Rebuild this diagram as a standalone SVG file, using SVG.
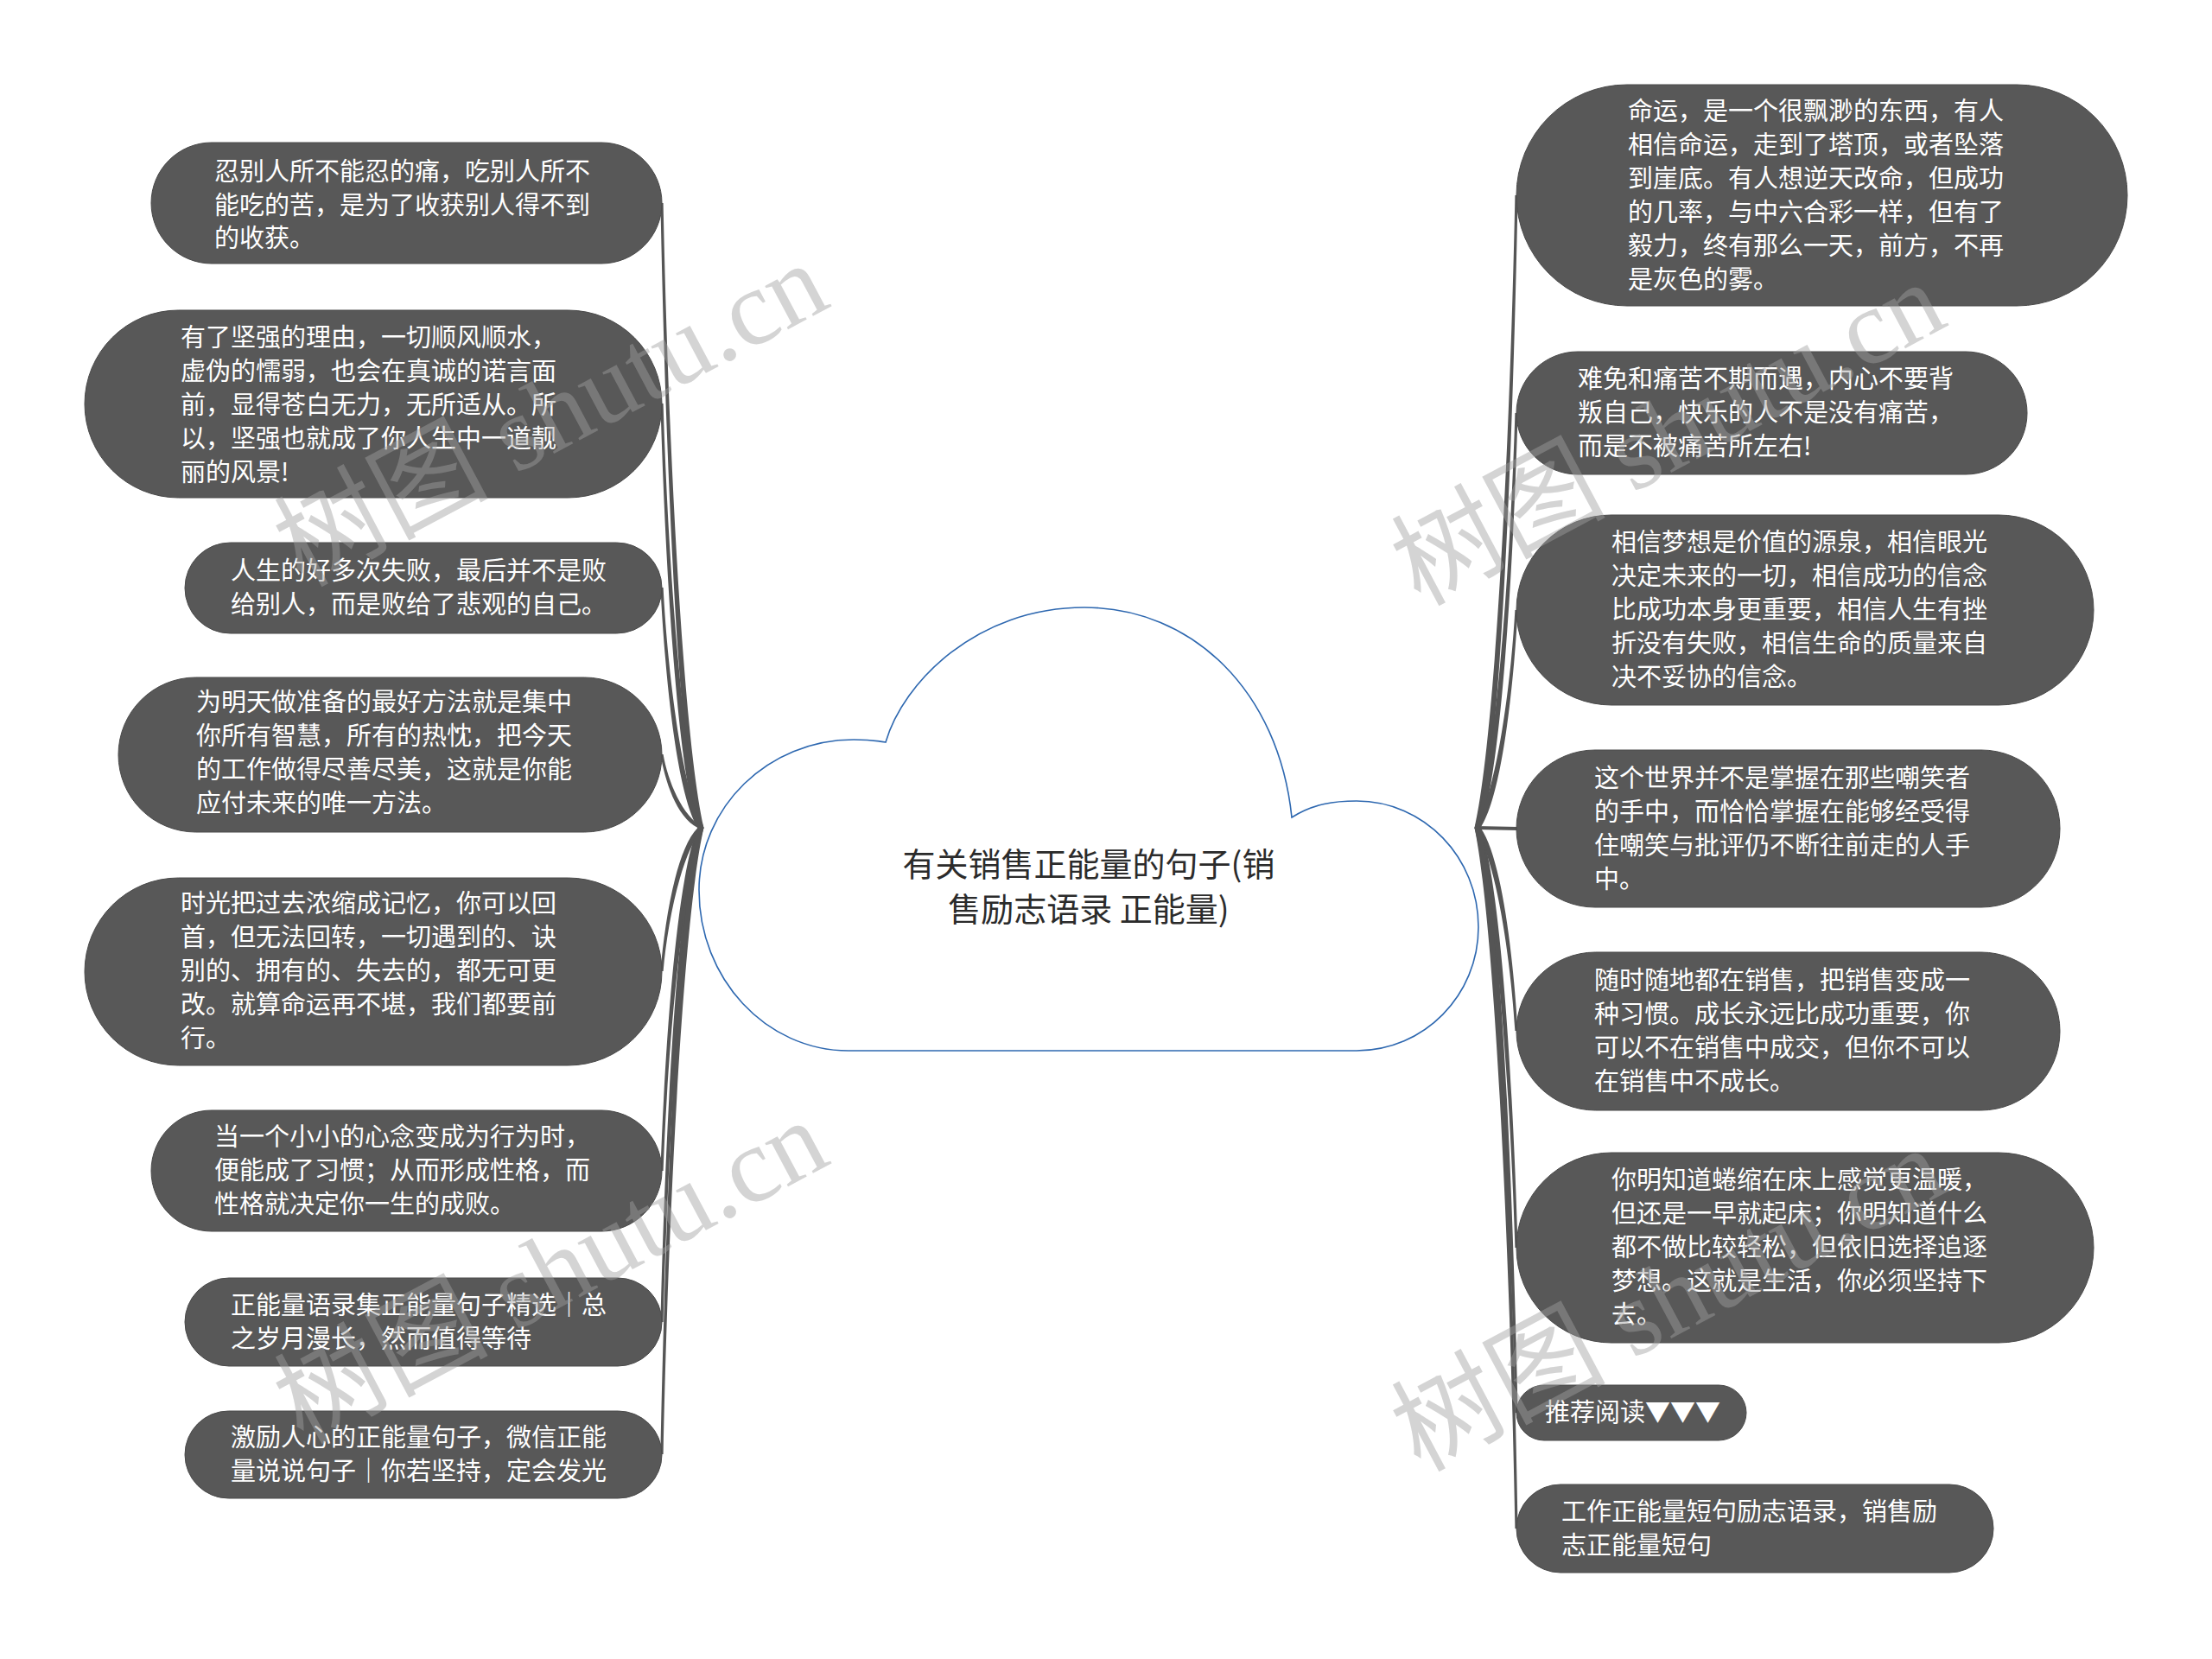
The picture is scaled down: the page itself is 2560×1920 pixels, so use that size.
<svg xmlns="http://www.w3.org/2000/svg" width="2560" height="1920" viewBox="0 0 2560 1920">
<style>
.node rect{fill:#585858;stroke:#4a4a4a;stroke-width:1}
.node text{fill:#ffffff;font-family:"Noto Sans CJK SC","Microsoft YaHei",sans-serif;font-size:29px}
.conn path{fill:#555555;stroke:none}
.title{fill:#2b2b2b;font-family:"Noto Sans CJK SC",sans-serif;font-size:38px;text-anchor:middle}
.wm{fill:#a0a0a0;fill-opacity:0.45;font-family:"Liberation Serif","Noto Sans CJK SC",serif;font-size:124px}
</style>
<rect width="2560" height="1920" fill="#ffffff"/>
<g id="connectors" class="conn">
<path d="M807.5,958 C782.5,849.5 769.4,488 764.4,235 L767.6,235 C772.6,488 789.5,849.5 814.5,958 Z"/>
<path d="M807.5,958 C782.5,884.4 769.4,638.9 764.4,467 L767.6,467 C772.6,638.9 789.5,884.4 814.5,958 Z"/>
<path d="M807.5,958 C782.5,916.3 769.4,777.3 764.4,680 L767.6,680 C772.6,777.3 789.5,916.3 814.5,958 Z"/>
<path d="M807.5,958 C782.5,945.3 769.4,902.8 764.4,873 L767.6,873 C772.6,902.8 789.5,945.3 814.5,958 Z"/>
<path d="M807.5,958 C782.5,982.9 769.4,1065.9 764.4,1124 L767.6,1124 C772.6,1065.9 789.5,982.9 814.5,958 Z"/>
<path d="M807.5,958 C782.5,1017.6 769.4,1216 764.4,1355 L767.6,1355 C772.6,1216 789.5,1017.6 814.5,958 Z"/>
<path d="M807.5,958 C782.5,1043.8 769.4,1329.8 764.4,1530 L767.6,1530 C772.6,1329.8 789.5,1043.8 814.5,958 Z"/>
<path d="M807.5,958 C782.5,1066.8 769.4,1429.3 764.4,1683 L767.6,1683 C772.6,1429.3 789.5,1066.8 814.5,958 Z"/>
<path d="M1706.5,958 C1731.5,848.2 1748.4,482.2 1753.4,226 L1756.6,226 C1751.6,482.2 1738.5,848.2 1713.5,958 Z"/>
<path d="M1706.5,958 C1731.5,886 1748.4,646 1753.4,478 L1756.6,478 C1751.6,646 1738.5,886 1713.5,958 Z"/>
<path d="M1706.5,958 C1731.5,920.2 1748.4,794.2 1753.4,706 L1756.6,706 C1751.6,794.2 1738.5,920.2 1713.5,958 Z"/>
<path d="M1708,956 L1757,957 L1757,961 L1708,960 Z"/>
<path d="M1706.5,958 C1731.5,993.3 1748.4,1110.8 1753.4,1193 L1756.6,1193 C1751.6,1110.8 1738.5,993.3 1713.5,958 Z"/>
<path d="M1706.5,958 C1731.5,1030.9 1748.4,1273.9 1753.4,1444 L1756.6,1444 C1751.6,1273.9 1738.5,1030.9 1713.5,958 Z"/>
<path d="M1706.5,958 C1731.5,1059.6 1748.4,1398 1753.4,1635 L1756.6,1635 C1751.6,1398 1738.5,1059.6 1713.5,958 Z"/>
<path d="M1706.5,958 C1731.5,1079.7 1748.4,1485.2 1753.4,1769 L1756.6,1769 C1751.6,1485.2 1738.5,1079.7 1713.5,958 Z"/>
</g>
<g id="root">
<path d="M982,1216 C886.5,1216 809,1132.7 809,1030 C809,934 889,856 988,856 C1002,856 1014,857 1025,859 C1045,790 1130,703 1255,703 C1380,703 1480,800 1495,946 C1520,930 1545,927 1570,927 C1648,927 1711,992 1711,1073 C1711,1152 1648,1216 1570,1216 Z" fill="#ffffff" stroke="#2e68b0" stroke-width="1.6"/>
<text class="title" x="1260" y="1014">有关销售正能量的句子(销</text>
<text class="title" x="1260" y="1066">售励志语录 正能量)</text>
</g>
<g id="L1" class="node"><rect x="175" y="165" width="591" height="140" rx="70"/>
<text x="248" y="209">忍别人所不能忍的痛，吃别人所不</text><text x="248" y="248">能吃的苦，是为了收获别人得不到</text><text x="248" y="286">的收获。</text></g>
<g id="L2" class="node"><rect x="98" y="359" width="668" height="217" rx="108.5"/>
<text x="209" y="401">有了坚强的理由，一切顺风顺水，</text><text x="209" y="440">虚伪的懦弱，也会在真诚的诺言面</text><text x="209" y="479">前，显得苍白无力，无所适从。所</text><text x="209" y="518">以，坚强也就成了你人生中一道靓</text><text x="209" y="557">丽的风景!</text></g>
<g id="L3" class="node"><rect x="214" y="628" width="552" height="105" rx="52.5"/>
<text x="267" y="671">人生的好多次失败，最后并不是败</text><text x="267" y="710">给别人，而是败给了悲观的自己。</text></g>
<g id="L4" class="node"><rect x="137" y="784" width="629" height="179" rx="89.5"/>
<text x="227" y="823">为明天做准备的最好方法就是集中</text><text x="227" y="862">你所有智慧，所有的热忱，把今天</text><text x="227" y="901">的工作做得尽善尽美，这就是你能</text><text x="227" y="940">应付未来的唯一方法。</text></g>
<g id="L5" class="node"><rect x="98" y="1016" width="668" height="217" rx="108.5"/>
<text x="209" y="1056">时光把过去浓缩成记忆，你可以回</text><text x="209" y="1095">首，但无法回转，一切遇到的、诀</text><text x="209" y="1134">别的、拥有的、失去的，都无可更</text><text x="209" y="1173">改。就算命运再不堪，我们都要前</text><text x="209" y="1212">行。</text></g>
<g id="L6" class="node"><rect x="175" y="1285" width="591" height="140" rx="70"/>
<text x="248" y="1326">当一个小小的心念变成为行为时，</text><text x="248" y="1365">便能成了习惯；从而形成性格，而</text><text x="248" y="1404">性格就决定你一生的成败。</text></g>
<g id="L7" class="node"><rect x="214" y="1479" width="552" height="102" rx="51"/>
<text x="267" y="1521">正能量语录集正能量句子精选｜总</text><text x="267" y="1560">之岁月漫长，然而值得等待</text></g>
<g id="L8" class="node"><rect x="214" y="1633" width="552" height="101" rx="50.5"/>
<text x="267" y="1674">激励人心的正能量句子，微信正能</text><text x="267" y="1713">量说说句子｜你若坚持，定会发光</text></g>
<g id="R1" class="node"><rect x="1755" y="98" width="707" height="256" rx="128"/>
<text x="1884" y="139">命运，是一个很飘渺的东西，有人</text><text x="1884" y="178">相信命运，走到了塔顶，或者坠落</text><text x="1884" y="217">到崖底。有人想逆天改命，但成功</text><text x="1884" y="256">的几率，与中六合彩一样，但有了</text><text x="1884" y="295">毅力，终有那么一天，前方，不再</text><text x="1884" y="334">是灰色的雾。</text></g>
<g id="R2" class="node"><rect x="1755" y="407" width="591" height="142" rx="71"/>
<text x="1826" y="449">难免和痛苦不期而遇，内心不要背</text><text x="1826" y="488">叛自己，快乐的人不是没有痛苦，</text><text x="1826" y="527">而是不被痛苦所左右!</text></g>
<g id="R3" class="node"><rect x="1755" y="596" width="668" height="220" rx="110"/>
<text x="1865" y="638">相信梦想是价值的源泉，相信眼光</text><text x="1865" y="677">决定未来的一切，相信成功的信念</text><text x="1865" y="716">比成功本身更重要，相信人生有挫</text><text x="1865" y="755">折没有失败，相信生命的质量来自</text><text x="1865" y="794">决不妥协的信念。</text></g>
<g id="R4" class="node"><rect x="1755" y="868" width="629" height="182" rx="91"/>
<text x="1845" y="911">这个世界并不是掌握在那些嘲笑者</text><text x="1845" y="950">的手中，而恰恰掌握在能够经受得</text><text x="1845" y="989">住嘲笑与批评仍不断往前走的人手</text><text x="1845" y="1028">中。</text></g>
<g id="R5" class="node"><rect x="1755" y="1102" width="629" height="183" rx="91.5"/>
<text x="1845" y="1145">随时随地都在销售，把销售变成一</text><text x="1845" y="1184">种习惯。成长永远比成功重要，你</text><text x="1845" y="1223">可以不在销售中成交，但你不可以</text><text x="1845" y="1262">在销售中不成长。</text></g>
<g id="R6" class="node"><rect x="1755" y="1334" width="668" height="220" rx="110"/>
<text x="1865" y="1376">你明知道蜷缩在床上感觉更温暖，</text><text x="1865" y="1415">但还是一早就起床；你明知道什么</text><text x="1865" y="1454">都不做比较轻松，但依旧选择追逐</text><text x="1865" y="1493">梦想。这就是生活，你必须坚持下</text><text x="1865" y="1532">去。</text></g>
<g id="R7" class="node"><rect x="1755" y="1603" width="266" height="64" rx="32"/>
<text x="1788" y="1645">推荐阅读▼▼▼</text></g>
<g id="R8" class="node"><rect x="1755" y="1718" width="552" height="102" rx="51"/>
<text x="1807" y="1760">工作正能量短句励志语录，销售励</text><text x="1807" y="1799">志正能量短句</text></g>
<g id="watermark">
<text class="wm" transform="translate(350,680) rotate(-28)">树图 shutu.cn</text>
<text class="wm" transform="translate(350,1672) rotate(-28)">树图 shutu.cn</text>
<text class="wm" transform="translate(1643,702) rotate(-28)">树图 shutu.cn</text>
<text class="wm" transform="translate(1643,1704) rotate(-28)">树图 shutu.cn</text>
</g>
</svg>
